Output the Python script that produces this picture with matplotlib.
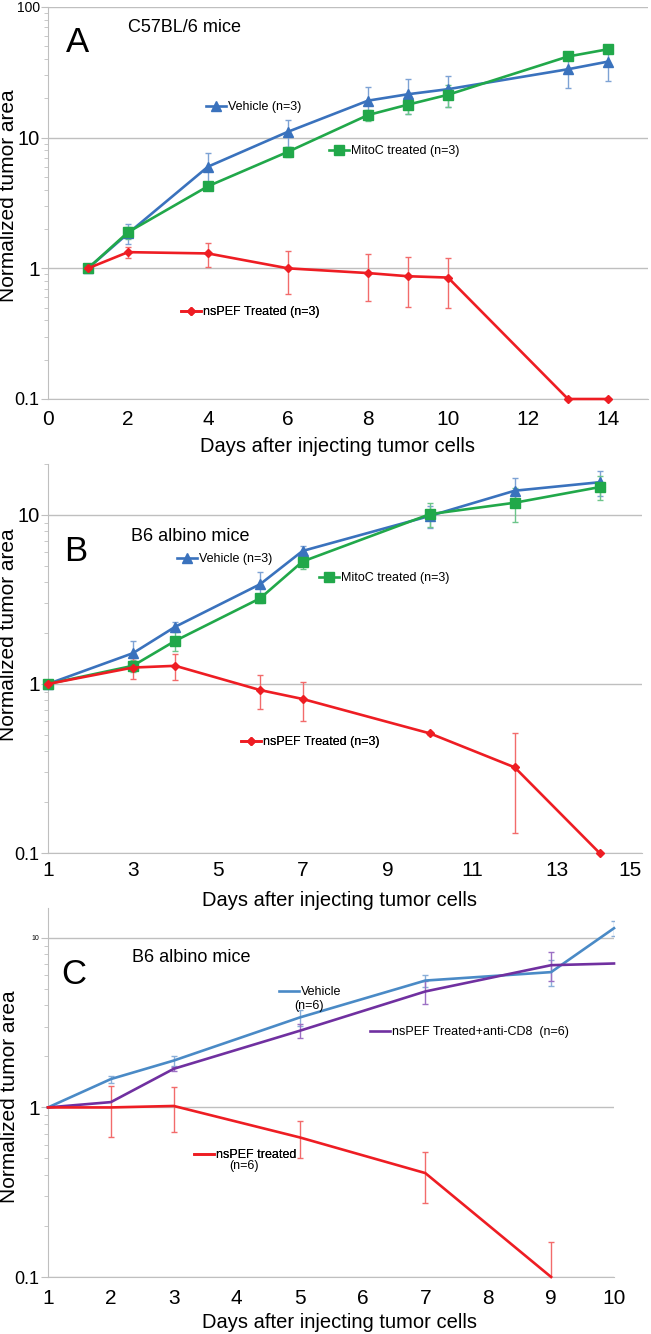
import numpy as np
import matplotlib
matplotlib.use('Agg')
import matplotlib.pyplot as plt
from matplotlib.ticker import LogLocator, NullFormatter

plt.rcParams['font.family'] = ['Liberation Sans', 'DejaVu Sans']

# Panel A - C57BL/6 mice
a_days = [1, 2, 4, 6, 8, 9, 10, 13, 14]
a_vehicle = [1, 1.85, 6.0, 11.1, 19.2, 21.5, 23.5, 33.4, 38.2]
a_vehicle_err = [0, 0.32, 1.6, 2.6, 5.3, 6.4, 6.4, 9.2, 11.0]
a_mitoc = [1, 1.89, 4.25, 7.8, 14.9, 17.9, 21.3, 41.8, 47.5]
a_mitoc_err = [0, 0.2, 0.3, 0.7, 1.4, 2.6, 4.0, 1.5, 1.5]
a_nspef = [1, 1.33, 1.30, 1.0, 0.92, 0.87, 0.85, 0.1, 0.1]
a_nspef_err = [0, 0.12, 0.27, 0.36, 0.36, 0.36, 0.35, 0, 0]

# Panel B - B6 albino mice
b_days = [1, 3, 4, 6, 7, 10, 12, 14]
b_vehicle = [1, 1.52, 2.18, 3.89, 6.12, 9.86, 13.9, 15.6]
b_vehicle_err = [0, 0.27, 0.13, 0.7, 0.4, 1.5, 2.7, 2.7]
b_mitoc = [1, 1.28, 1.80, 3.21, 5.3, 10.1, 11.8, 14.6]
b_mitoc_err = [0, 0.1, 0.24, 0.2, 0.5, 1.6, 2.7, 2.3]
b_nspef = [1, 1.25, 1.28, 0.92, 0.815, 0.51, 0.321, 0.1]
b_nspef_err = [0, 0.18, 0.22, 0.21, 0.21, 0.01, 0.19, 0]

# Panel C - B6 albino mice, anti-CD8
c_days = [1, 2, 3, 5, 7, 9, 10]
c_vehicle = [1, 1.47, 1.89, 3.39, 5.6, 6.28, 11.4]
c_vehicle_err = [0, 0.07, 0.13, 0.38, 0.46, 1.1, 1.1]
c_cd8 = [1, 1.075, 1.69, 2.83, 4.83, 6.9, 7.06]
c_cd8_err = [0, 0, 0.05, 0.27, 0.75, 1.3, 0]
c_nspef_days = [1, 2, 3, 5, 7, 9]
c_nspef = [1, 1.0, 1.02, 0.666, 0.41, 0.1]
c_nspef_err = [0, 0.33, 0.3, 0.165, 0.135, 0.06]

BLUE, BLUE_E = '#3A72BD', '#7DA2D4'
GREEN, GREEN_E = '#21A84A', '#6CC58A'
RED, RED_E = '#EE1D23', '#F26B6B'
PURPLE, PURPLE_E = '#7030A0', '#9C70C4'
CBLUE, CBLUE_E = '#4A8AC6', '#8AAED8'
GRID = '#BFBFBF'
XLABEL = 'Days after injecting tumor cells'
YLABEL = 'Normalized tumor area'

W, H = 651, 1334
fig = plt.figure(figsize=(W / 100, H / 100), dpi=100)


def frac(x, y):
    # pixel position (from top left) -> figure fraction
    return x / W, 1 - y / H


def make_axes(left, top, right, bottom, xlim, ylim, xticks, yticks, ysizes):
    ax = fig.add_axes([left / W, 1 - bottom / H, (right - left) / W, (bottom - top) / H])
    ax.patch.set_visible(False)
    ax.set_yscale('log')
    ax.set_xlim(*xlim)
    ax.set_ylim(*ylim)
    ax.set_xticks(xticks)
    ax.set_yticks(yticks, [('%g' % t) for t in yticks])
    for lab, s in zip(ax.get_yticklabels(), ysizes):
        lab.set_fontsize(s)
    ax.yaxis.set_minor_locator(LogLocator(base=10, subs=range(2, 10)))
    ax.yaxis.set_minor_formatter(NullFormatter())
    ax.tick_params(axis='x', length=0, labelsize=15)
    ax.tick_params(axis='y', which='major', length=5, color=GRID, pad=1)
    ax.tick_params(axis='y', which='minor', length=3, color=GRID)
    ax.grid(axis='y', which='major', color=GRID, lw=1)
    ax.set_axisbelow(True)
    for side in ('top', 'right'):
        ax.spines[side].set_visible(False)
    for side in ('left', 'bottom'):
        ax.spines[side].set_color(GRID)
    return ax


def series(ax, x, y, err, color, ecolor, marker=None, ms=6):
    x, y, err = np.array(x, float), np.array(y, float), np.array(err, float)
    m = err > 0
    ax.errorbar(x[m], y[m], yerr=err[m], fmt='none', ecolor=ecolor,
                elinewidth=1, capsize=2.5, capthick=1, zorder=2)
    line, = ax.plot(x, y, color=color, lw=1.9, marker=marker, ms=ms,
                    clip_on=False, zorder=3)
    return line


def tag(ax, handle, text, x, y):
    leg = ax.legend([handle], [text], loc='center left', bbox_to_anchor=frac(x, y),
                    bbox_transform=fig.transFigure, frameon=False, borderpad=0,
                    borderaxespad=0, handlelength=1.6, handletextpad=0.15,
                    numpoints=1, fontsize=9)
    ax.add_artist(leg)


def labels(ax, letter, title, lx, ly, tx, ty, xl, yl, pad):
    fig.text(*frac(lx, ly), letter, fontsize=25, ha='center', va='center')
    fig.text(*frac(tx, ty), title, fontsize=13, ha='left', va='center')
    ax.set_xlabel(XLABEL, fontsize=14.5, va='center')
    ax.xaxis.set_label_coords(*frac(*xl), transform=fig.transFigure)
    ax.set_ylabel(YLABEL, fontsize=15, va='center')
    ax.yaxis.set_label_coords(*frac(*yl), transform=fig.transFigure)
    ax.tick_params(axis='x', pad=pad)


# ---- A ----
axA = make_axes(48, 7, 648, 399, (0, 15), (0.1, 100), range(0, 15, 2),
                [0.1, 1, 10, 100], [13, 15, 14.5, 10])
hv = series(axA, a_days, a_vehicle, a_vehicle_err, BLUE, BLUE_E, '^', 6.5)
hm = series(axA, a_days, a_mitoc, a_mitoc_err, GREEN, GREEN_E, 's', 6.5)
hn = series(axA, a_days, a_nspef, a_nspef_err, RED, RED_E, 'D', 4.5)
tag(axA, hv, 'Vehicle (n=3)', 206, 107)
tag(axA, hm, 'MitoC treated (n=3)', 329, 151)
tag(axA, hn, 'nsPEF Treated (n=3)', 181, 312)
labels(axA, 'A', 'C57BL/6 mice', 77, 42, 128, 28, (337, 447), (9, 196), 8)

# ---- B ----
axB = make_axes(48, 464, 642, 853, (1, 15), (0.1, 20), range(1, 16, 2),
                [0.1, 1, 10], [13, 15, 14.5])
axB.get_xticklabels()[-1].set_horizontalalignment('right')
hv = series(axB, b_days, b_vehicle, b_vehicle_err, BLUE, BLUE_E, '^', 6.5)
hm = series(axB, b_days, b_mitoc, b_mitoc_err, GREEN, GREEN_E, 's', 6.5)
hn = series(axB, b_days, b_nspef, b_nspef_err, RED, RED_E, 'D', 4.5)
tag(axB, hv, 'Vehicle (n=3)', 177, 559)
tag(axB, hm, 'MitoC treated (n=3)', 319, 578)
tag(axB, hn, 'nsPEF Treated (n=3)', 241, 742)
labels(axB, 'B', 'B6 albino mice', 76, 552, 131, 537, (340, 901), (9, 635), 6)

# ---- C ----
axC = make_axes(48, 908, 614, 1277, (1, 10), (0.1, 15), range(1, 11),
                [0.1, 1, 10], [13, 15, 5])
hv = series(axC, c_days, c_vehicle, c_vehicle_err, CBLUE, CBLUE_E)
hp = series(axC, c_days, c_cd8, c_cd8_err, PURPLE, PURPLE_E)
hn = series(axC, c_nspef_days, c_nspef, c_nspef_err, RED, RED_E)
tag(axC, hv, 'Vehicle', 279, 992)
fig.text(*frac(294, 1006), '(n=6)', fontsize=9, ha='left', va='center')
tag(axC, hp, 'nsPEF Treated+anti-CD8  (n=6)', 370, 1032)
tag(axC, hn, 'nsPEF treated', 194, 1155)
fig.text(*frac(229, 1166), '(n=6)', fontsize=9, ha='left', va='center')
labels(axC, 'C', 'B6 albino mice', 74, 975, 132, 957, (340, 1322), (10, 1097), 9)

fig.savefig('out.png', dpi=100)
